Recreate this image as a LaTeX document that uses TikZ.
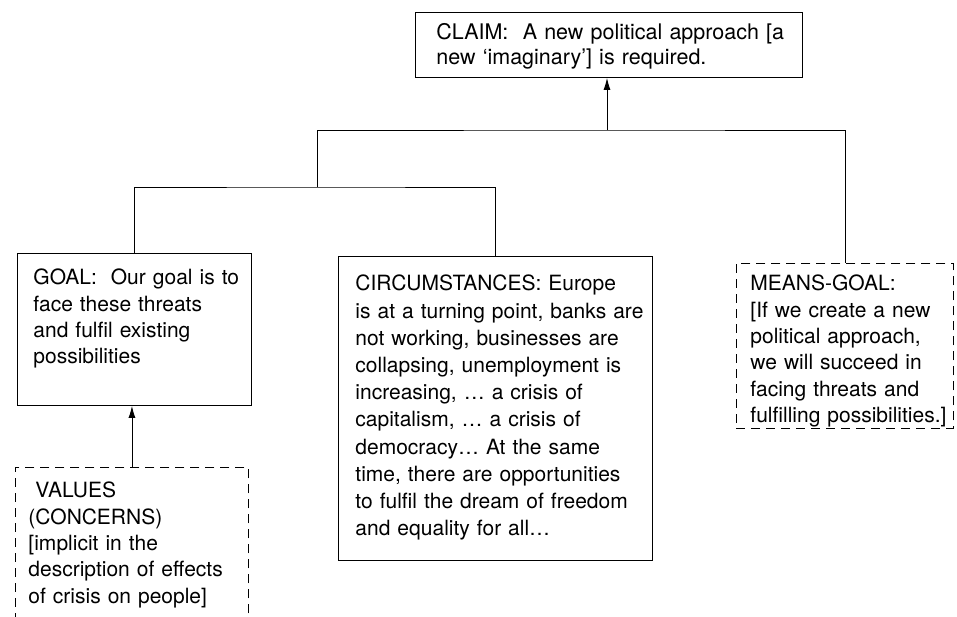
\documentclass[tikz,border=0pt]{standalone}
\usepackage{fontspec}
\setmainfont{TeX Gyre Heros}
\usetikzlibrary{arrows.meta}
\newcommand{\argtext}[1]{\begin{tabular}[t]{@{}l@{}}#1\end{tabular}}
\begin{document}
\begin{tikzpicture}[x=1pt,y=-1pt,
    argbox/.style={draw,line width=0.9pt,anchor=north west,align=left,inner ysep=0pt,
        font=\fontsize{21}{26.3}\selectfont},
    hiddenbox/.style={argbox,dash pattern=on 9pt off 6pt},
    link/.style={line width=0.9pt},
    arr/.style={link,-{Latex[length=12pt,width=7pt]}}]
    \useasboundingbox (0,0) rectangle (957,616);
    \clip (0,0) rectangle (957,616);
    \node[argbox,inner xsep=21pt,text width=345pt,text height=27.5pt,text depth=37.5pt,
        font=\fontsize{21.5}{25}\selectfont] (claim) at (415,12)
        {\argtext{CLAIM:\ \ A new political approach [a\\new ‘imaginary’] is required.}};
    \node[argbox,inner xsep=16pt,text width=202pt,text height=31.5pt,text depth=120.5pt] (goal) at (17,253)
        {\argtext{GOAL:\ \ Our goal is to\\face these threats\\and fulfil existing\\possibilities}};
    \node[argbox,inner xsep=17pt,text width=280pt,text height=34.5pt,text depth=269.5pt,
        font=\fontsize{21}{27.2}\selectfont] (circ) at (338,256)
        {\argtext{CIRCUMSTANCES: Europe\\is at a turning point, banks are\\not working, businesses are\\collapsing, unemployment is\\increasing, … a crisis of\\capitalism, … a crisis of\\democracy… At the same\\time, there are opportunities\\to fulfil the dream of freedom\\and equality for all…}};
    \node[hiddenbox,inner xsep=14pt,text width=189pt,text height=27.5pt,text depth=137.5pt] (means) at (736,263)
        {\argtext{MEANS-GOAL:\\{[}If we create a new\\political approach,\\we will succeed in\\facing threats and\\fulfilling possibilities.]}};
    \node[hiddenbox,inner xsep=13pt,text width=207pt,text height=30.5pt,text depth=122.5pt] (values) at (15,467)
        {\argtext{\ VALUES\\(CONCERNS)\\{[}implicit in the\\description of effects\\of crisis on people]}};
    \coordinate (lowbus) at (317,187);
    \coordinate (topbus) at (607,130);
    \draw[link] (goal.north) |- (lowbus) -| (circ.north);
    \draw[link] (lowbus) |- (topbus) -| (means.north);
    \draw[arr] (topbus) -- (topbus |- claim.south);
    \draw[arr] (values.north) -- (values.north |- goal.south);
\end{tikzpicture}
\end{document}
